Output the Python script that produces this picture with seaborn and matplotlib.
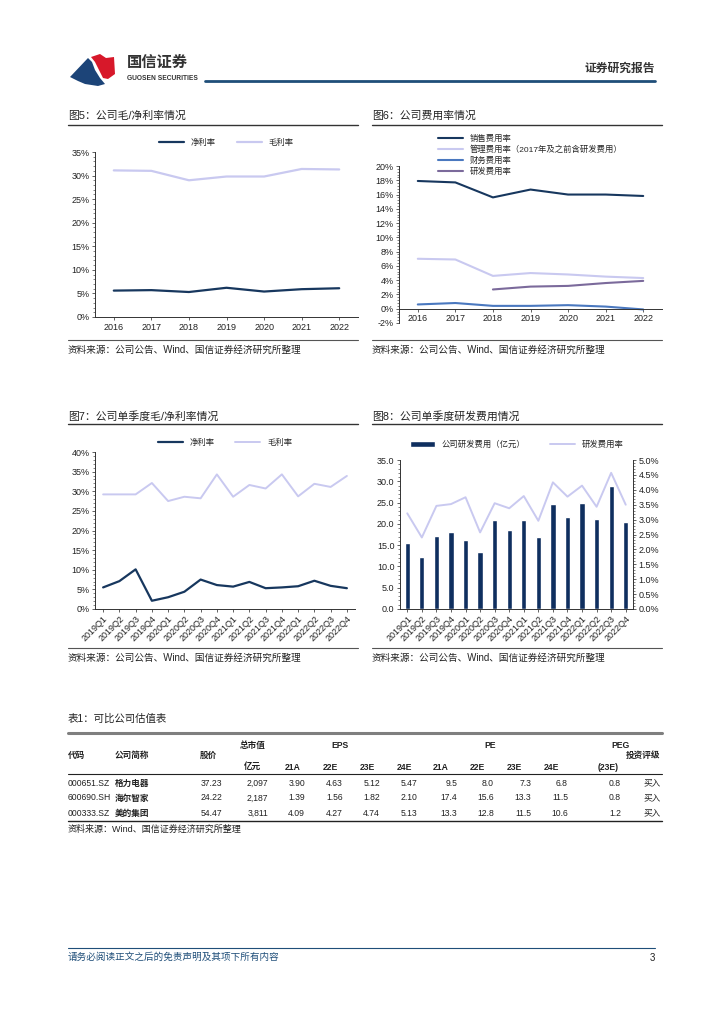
import numpy as np
import matplotlib
matplotlib.use('Agg')
import matplotlib.pyplot as plt
import seaborn as sns
from matplotlib.lines import Line2D
from matplotlib.patches import Polygon
from matplotlib.ticker import AutoMinorLocator, MultipleLocator, FuncFormatter

# ---- data ----
years = ['2016', '2017', '2018', '2019', '2020', '2021', '2022']
net_margin = [5.6, 5.7, 5.3, 6.2, 5.4, 5.9, 6.1]
gross_margin = [31.1, 31.0, 29.0, 29.8, 29.8, 31.4, 31.3]

sales_rate = [17.9, 17.7, 15.6, 16.7, 16.0, 16.0, 15.8]
admin_rate = [7.0, 6.9, 4.6, 5.0, 4.8, 4.5, 4.3]
fin_rate = [0.6, 0.8, 0.4, 0.4, 0.5, 0.3, -0.1]
rd_rate = [np.nan, np.nan, 2.7, 3.1, 3.2, 3.6, 3.9]

quarters = ['2019Q1', '2019Q2', '2019Q3', '2019Q4', '2020Q1', '2020Q2', '2020Q3', '2020Q4',
            '2021Q1', '2021Q2', '2021Q3', '2021Q4', '2022Q1', '2022Q2', '2022Q3', '2022Q4']
q_net = [5.5, 7.1, 10.1, 2.1, 3.0, 4.4, 7.5, 6.1, 5.7, 6.9, 5.3, 5.5, 5.8, 7.2, 5.9, 5.3]
q_gross = [29.2, 29.2, 29.2, 32.1, 27.5, 28.6, 28.2, 34.3, 28.6, 31.6, 30.7, 34.3, 28.7, 31.9, 31.1, 33.9]
q_rd_cost = [15.4, 12.2, 17.1, 18.2, 16.1, 13.5, 20.8, 18.6, 20.8, 16.8, 24.7, 21.6, 24.9, 21.2, 28.8, 20.4]
q_rd_rate = [3.21, 2.40, 3.46, 3.52, 3.75, 2.57, 3.55, 3.38, 3.79, 2.96, 4.25, 3.77, 4.14, 3.43, 4.57, 3.50]

tbl_code = ['000651.SZ', '600690.SH', '000333.SZ']
tbl_name = ['格力电器', '海尔智家', '美的集团']
tbl_price = ['37.23', '24.22', '54.47']
tbl_mktcap = ['2,097', '2,187', '3,811']
tbl_eps = [['3.90', '4.63', '5.12', '5.47'],
           ['1.39', '1.56', '1.82', '2.10'],
           ['4.09', '4.27', '4.74', '5.13']]
tbl_pe = [['9.5', '8.0', '7.3', '6.8'],
          ['17.4', '15.6', '13.3', '11.5'],
          ['13.3', '12.8', '11.5', '10.6']]
tbl_peg = ['0.8', '0.8', '1.2']
tbl_rating = ['买入', '买入', '买入']
sub_cols = ['21A', '22E', '23E', '24E']

src_text = '资料来源：公司公告、Wind、国信证券经济研究所整理'

navy = '#17375e'
lav = '#c9c9f0'
blue_mid = '#4a78bf'
purple = '#7b6a9b'
bar_col = '#0f2f5f'
txt = '#222222'

sns.set_theme(style='white')
plt.rcParams['font.family'] = ['Liberation Sans', 'Noto Sans CJK SC', 'DejaVu Sans']
plt.rcParams['axes.unicode_minus'] = False

W, H = 724, 1024
fig = plt.figure(figsize=(7.24, 10.24), dpi=100)


def box(x0, y0, x1, y1):
    return [x0 / W, 1 - y1 / H, (x1 - x0) / W, (y1 - y0) / H]


def ftext(x, y, s, **kw):
    kw.setdefault('va', 'center')
    kw.setdefault('color', txt)
    fig.text(x / W, 1 - y / H, s, **kw)


def hline(x0, x1, y, **kw):
    fig.add_artist(Line2D([x0 / W, x1 / W], [1 - y / H, 1 - y / H], **kw))


def style_ax(ax):
    for s in ['top', 'right']:
        ax.spines[s].set_visible(False)
    for s in ['left', 'bottom']:
        ax.spines[s].set_linewidth(0.7)
        ax.spines[s].set_color('#333333')
    ax.tick_params(labelsize=6.5, length=2, width=0.5, pad=2, colors=txt,
                   left=True, bottom=True, direction='out')
    ax.yaxis.set_minor_locator(AutoMinorLocator(5))
    ax.tick_params(which='minor', left=True, length=1.3, width=0.4)
    ax.set_xlabel('')
    ax.set_ylabel('')


pct0 = FuncFormatter(lambda v, p: f'{v:.0f}%')

# ---- header ----
fig.add_artist(Polygon([(70 / W, 1 - 77 / H), (88 / W, 1 - 58 / H), (92 / W, 1 - 62 / H),
                        (95 / W, 1 - 70 / H), (100 / W, 1 - 78 / H), (105 / W, 1 - 84 / H),
                        (98 / W, 1 - 86 / H), (85 / W, 1 - 84 / H), (78 / W, 1 - 81 / H)],
                       closed=True, transform=fig.transFigure, color='#1c4478', lw=0))
fig.add_artist(Polygon([(91 / W, 1 - 57 / H), (100 / W, 1 - 54 / H), (106 / W, 1 - 58 / H),
                        (114 / W, 1 - 57 / H), (115 / W, 1 - 74 / H), (108 / W, 1 - 79 / H),
                        (103 / W, 1 - 78 / H), (99 / W, 1 - 70 / H), (95 / W, 1 - 62 / H)],
                       closed=True, transform=fig.transFigure, color='#d7182a', lw=0))
ftext(127, 63, '国信证券', fontsize=11, fontweight='bold', color='#333333')
ftext(127, 78, 'GUOSEN SECURITIES', fontsize=4.8, fontweight='bold', color='#333333')
ftext(655, 69, '证券研究报告', fontsize=8.5, fontweight='bold', ha='right', color='#333333')
hline(205, 655, 81, color='#1f4e79', lw=2)

# ---- chart titles and rules ----
for x0, x1, y_t, y_l, y_s, y_st, title in [
        (68, 358, 116, 125, 340, 350, '图5：公司毛/净利率情况'),
        (372, 662, 116, 125, 340, 350, '图6：公司费用率情况'),
        (68, 358, 416, 424, 648, 658, '图7：公司单季度毛/净利率情况'),
        (372, 662, 416, 424, 648, 658, '图8：公司单季度研发费用情况')]:
    ftext(x0, y_t, title, fontsize=7.8)
    hline(x0, x1, y_l, color='#333333', lw=1)
    hline(x0, x1, y_s, color='#555555', lw=0.8)
    ftext(x0, y_st, src_text, fontsize=6.9)

# ---- chart 5 ----
ax5 = fig.add_axes(box(95, 152, 358, 317))
sns.lineplot(x=years, y=net_margin, ax=ax5, color=navy, lw=1.6, label='净利率')
sns.lineplot(x=years, y=gross_margin, ax=ax5, color=lav, lw=1.6, label='毛利率')
ax5.set_ylim(0, 35)
ax5.set_xlim(-0.5, 6.5)
ax5.yaxis.set_major_locator(MultipleLocator(5))
ax5.yaxis.set_major_formatter(pct0)
style_ax(ax5)
ax5.legend(loc='lower center', bbox_to_anchor=(0.5, 1.0), ncol=2, frameon=False,
           fontsize=6, handlelength=3, columnspacing=2.5, borderaxespad=0.2)

# ---- chart 6 ----
ax6 = fig.add_axes(box(399, 166, 662, 323))
sns.lineplot(x=years, y=sales_rate, ax=ax6, color=navy, lw=1.5, label='销售费用率')
sns.lineplot(x=years, y=admin_rate, ax=ax6, color=lav, lw=1.5, label='管理费用率（2017年及之前含研发费用）')
sns.lineplot(x=years, y=fin_rate, ax=ax6, color=blue_mid, lw=1.5, label='财务费用率')
sns.lineplot(x=years, y=rd_rate, ax=ax6, color=purple, lw=1.5, label='研发费用率')
ax6.set_ylim(-2, 20)
ax6.set_xlim(-0.5, 6.5)
ax6.yaxis.set_major_locator(MultipleLocator(2))
ax6.yaxis.set_major_formatter(pct0)
style_ax(ax6)
ax6.spines['bottom'].set_position(('data', 0))
ax6.legend(loc='upper left', bbox_to_anchor=(434 / W, 1 - 131 / H), bbox_transform=fig.transFigure,
           frameon=False, fontsize=6, handlelength=3, labelspacing=0.3, borderpad=0)

# ---- chart 7 ----
ax7 = fig.add_axes(box(95, 452, 355, 609))
sns.lineplot(x=quarters, y=q_net, ax=ax7, color=navy, lw=1.6, label='净利率')
sns.lineplot(x=quarters, y=q_gross, ax=ax7, color=lav, lw=1.4, label='毛利率')
ax7.set_ylim(0, 40)
ax7.set_xlim(-0.5, 15.5)
ax7.yaxis.set_major_locator(MultipleLocator(5))
ax7.yaxis.set_major_formatter(pct0)
style_ax(ax7)
plt.setp(ax7.get_xticklabels(), rotation=45, ha='right', rotation_mode='anchor')
ax7.legend(loc='lower center', bbox_to_anchor=(0.5, 1.0), ncol=2, frameon=False,
           fontsize=6, handlelength=3, columnspacing=2.5, borderaxespad=0.2)

# ---- chart 8 ----
ax8 = fig.add_axes(box(400, 460, 633, 609))
sns.barplot(x=quarters, y=q_rd_cost, ax=ax8, color=bar_col, width=0.36, saturation=1,
            label='公司研发费用（亿元）')
ax8.set_ylim(0, 35)
ax8.set_xlim(-0.5, 15.5)
ax8.yaxis.set_major_locator(MultipleLocator(5))
ax8.yaxis.set_major_formatter(FuncFormatter(lambda v, p: f'{v:.1f}'))
style_ax(ax8)
plt.setp(ax8.get_xticklabels(), rotation=45, ha='right', rotation_mode='anchor')
ax8r = ax8.twinx()
sns.lineplot(x=np.arange(len(quarters)), y=q_rd_rate, ax=ax8r, color=lav, lw=1.4, label='研发费用率')
ax8r.set_ylim(0, 5)
ax8r.yaxis.set_major_locator(MultipleLocator(0.5))
ax8r.yaxis.set_major_formatter(FuncFormatter(lambda v, p: f'{v:.1f}%'))
for s in ['top', 'left', 'bottom']:
    ax8r.spines[s].set_visible(False)
ax8r.spines['right'].set_linewidth(0.7)
ax8r.spines['right'].set_color('#333333')
ax8r.yaxis.set_minor_locator(AutoMinorLocator(5))
ax8r.tick_params(labelsize=6.5, length=2, width=0.5, pad=2, colors=txt, right=True, direction='out')
ax8r.tick_params(which='minor', right=True, length=1.3, width=0.4)
ax8r.set_ylabel('')
h1, l1 = ax8.get_legend_handles_labels()
h2, l2 = ax8r.get_legend_handles_labels()
if ax8r.get_legend():
    ax8r.get_legend().remove()
ax8.legend(h1 + h2, l1 + l2, loc='lower center', bbox_to_anchor=(0.5, 1.04), ncol=2, frameon=False,
           fontsize=6, handlelength=3, columnspacing=3, borderaxespad=0.2)

# ---- table ----
ftext(68, 719, '表1：可比公司估值表', fontsize=7.5)
hline(68, 662, 733, color='#7f7f7f', lw=2.2)
hline(68, 662, 774, color='#222222', lw=0.8)
hline(68, 662, 821, color='#222222', lw=1.0)
fs = 6.2
ftext(68, 755, '代码', fontsize=fs, fontweight='bold')
ftext(115, 755, '公司简称', fontsize=fs, fontweight='bold')
ftext(208, 755, '股价', fontsize=fs, fontweight='bold', ha='center')
ftext(253, 745, '总市值', fontsize=fs, fontweight='bold', ha='center')
ftext(253, 766, '亿元', fontsize=fs, fontweight='bold', ha='center')
ftext(340, 745, 'EPS', fontsize=fs, fontweight='bold', ha='center')
ftext(490, 745, 'PE', fontsize=fs, fontweight='bold', ha='center')
ftext(620, 745, 'PEG', fontsize=fs, fontweight='bold', ha='center')
ftext(608, 767, '(23E)', fontsize=fs, fontweight='bold', ha='center')
ftext(643, 755, '投资评级', fontsize=fs, fontweight='bold', ha='center')
eps_x = [305, 343, 380, 417]
pe_x = [457, 494, 531, 568]
for i, c in enumerate(sub_cols):
    ftext(eps_x[i] - 20, 767, c, fontsize=fs, fontweight='bold')
    ftext(pe_x[i] - 24, 767, c, fontsize=fs, fontweight='bold')
row_y = [783, 798, 813]
for r in range(3):
    y = row_y[r]
    ftext(68, y, tbl_code[r], fontsize=fs)
    ftext(115, y, tbl_name[r], fontsize=fs, fontweight='bold')
    ftext(222, y, tbl_price[r], fontsize=fs, ha='right')
    ftext(268, y, tbl_mktcap[r], fontsize=fs, ha='right')
    for i in range(4):
        ftext(eps_x[i], y, tbl_eps[r][i], fontsize=fs, ha='right')
        ftext(pe_x[i], y, tbl_pe[r][i], fontsize=fs, ha='right')
    ftext(621, y, tbl_peg[r], fontsize=fs, ha='right')
    ftext(661, y, tbl_rating[r], fontsize=fs, ha='right')
ftext(68, 829, '资料来源：Wind、国信证券经济研究所整理', fontsize=6.5)

# ---- footer ----
hline(68, 655, 948, color='#1f4e79', lw=0.8)
ftext(68, 957, '请务必阅读正文之后的免责声明及其项下所有内容', fontsize=6.9, color='#1f4e79', style='italic')
ftext(655, 958, '3', fontsize=7, ha='right')

fig.savefig('out.png', dpi=100)
